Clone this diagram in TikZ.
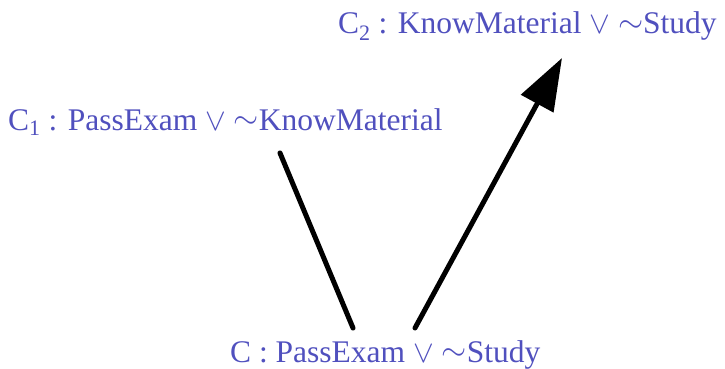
\documentclass[tikz,border=0pt]{standalone}
\usepackage{fontspec}
\usepackage{graphicx}
\setmainfont{Liberation Serif}
\usetikzlibrary{arrows.meta}
\definecolor{clausecol}{RGB}{80,80,190}
\newcommand\orsym{\scalebox{1.25}{$\vee$}}
\newcommand\notsym{\raisebox{0.05em}{\scalebox{1.3}{$\sim$}}}
\begin{document}
\begin{tikzpicture}[x=1pt,y=-1pt,
  clause/.style={anchor=base west,inner sep=0pt,text=clausecol,font=\fontsize{31.5}{38}\selectfont},
  link/.style={line width=5pt,line cap=round},
  resolv/.style={link,-{Triangle[length=52pt,width=36pt]}}]
\useasboundingbox (0,0) rectangle (725,369);
\node[clause] (c2) at (338,34) {C\textsubscript{2} : KnowMaterial \orsym{} \notsym{}Study};
\node[clause] (c1) at (8,130) {C\textsubscript{1} : PassExam \orsym{} \notsym{}KnowMaterial};
\node[clause] (c) at (230,362) {C : PassExam \orsym{} \notsym{}Study};
\coordinate (l1a) at (280,153);
\coordinate (l1b) at (353,328);
\coordinate (l2a) at (415,328);
\coordinate (l2b) at (562,58);
\draw[link] (l1a) -- (l1b);
\draw[resolv] (l2a) -- (l2b);
\end{tikzpicture}
\end{document}
